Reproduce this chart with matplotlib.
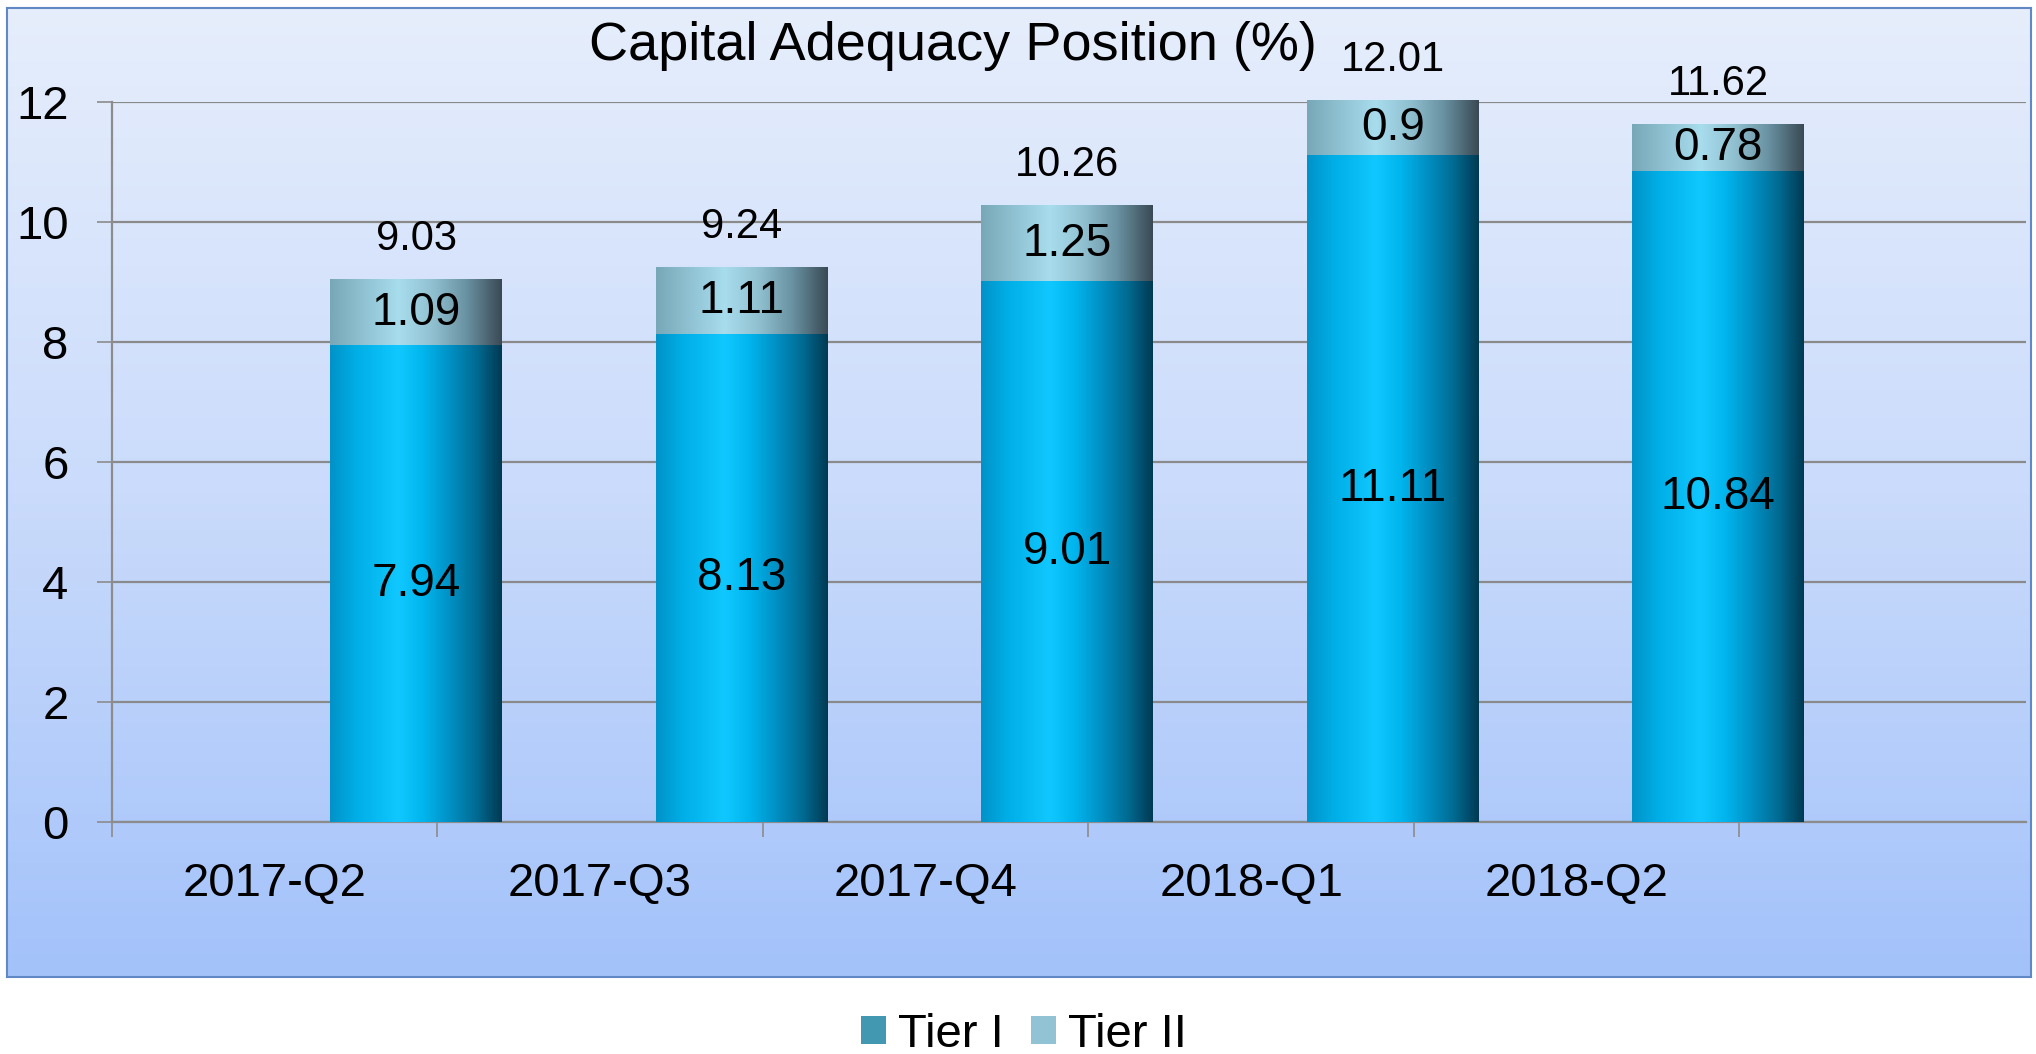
import numpy as np
import matplotlib.pyplot as plt
from matplotlib.colors import LinearSegmentedColormap

plt.rcParams['font.family'] = ['Liberation Sans', 'DejaVu Sans']

# data
quarters = ['2017-Q2', '2017-Q3', '2017-Q4', '2018-Q1', '2018-Q2']
tier1 = [7.94, 8.13, 9.01, 11.11, 10.84]
tier2 = [1.09, 1.11, 1.25, 0.9, 0.78]
total = [9.03, 9.24, 10.26, 12.01, 11.62]

W, H = 2036, 1054
fig = plt.figure(figsize=(W / 100, H / 100), dpi=100, facecolor='white')

# blue gradient panel behind the chart
bx0, by0, bx1, by1 = 7 / W, 1 - 977 / H, 2031 / W, 1 - 8 / H
bg = fig.add_axes([bx0, by0, bx1 - bx0, by1 - by0], zorder=0)
bg_cmap = LinearSegmentedColormap.from_list('bg', ['#A3C2FA', '#CADBFB', '#E6EEFC'])
bg.imshow(np.linspace(0, 1, 256).reshape(-1, 1), aspect='auto', cmap=bg_cmap,
          origin='lower', extent=[0, 1, 0, 1])
bg.set_xticks([])
bg.set_yticks([])
for s in bg.spines.values():
    s.set_color('#5F88C4')
    s.set_linewidth(1.5)

ax = fig.add_axes([111.6 / W, 1 - 822 / H, (2026 - 111.6) / W, (822 - 101.7) / H], zorder=1)
ax.patch.set_alpha(0)

x = np.arange(len(quarters))
pos = x + 0.935  # bars sit right of the category label in the original
bw = 0.528
b1 = ax.bar(pos, tier1, width=bw, color='#4298B0', label='Tier I', zorder=3)
b2 = ax.bar(pos, tier2, bottom=tier1, width=bw, color='#92C3D4', label='Tier II', zorder=3)

# cylinder-like horizontal shading on each bar
t1_cmap = LinearSegmentedColormap.from_list('t1', [
    (0.0, '#0092C8'), (0.15, '#00AEE6'), (0.4, '#10C8FF'), (0.55, '#00B4EC'),
    (0.7, '#0090C4'), (0.85, '#006C94'), (1.0, '#003A52')])
t2_cmap = LinearSegmentedColormap.from_list('t2', [
    (0.0, '#78A8B8'), (0.4, '#A8DDEE'), (0.6, '#90C0D0'), (0.8, '#6890A0'),
    (1.0, '#3A4A54')])
grad = np.linspace(0, 1, 256).reshape(1, -1)
for bars, cm in [(b1, t1_cmap), (b2, t2_cmap)]:
    for r in bars:
        ax.imshow(grad, cmap=cm, aspect='auto', interpolation='bilinear', zorder=4,
                  extent=[r.get_x(), r.get_x() + r.get_width(),
                          r.get_y(), r.get_y() + r.get_height()], clip_on=False)

# value labels
for r, v in zip(b1, tier1):
    ax.text(r.get_x() + r.get_width() / 2, v / 2, str(v), ha='center', va='center',
            fontsize=33, zorder=5)
for r, v, b in zip(b2, tier2, tier1):
    ax.text(r.get_x() + r.get_width() / 2, b + v / 2, str(v), ha='center', va='center',
            fontsize=33, zorder=5)
for r, v in zip(b2, total):
    ax.text(r.get_x() + r.get_width() / 2, v + 0.68, str(v), ha='center', va='center',
            fontsize=30, zorder=5, clip_on=False)

ax.set_xlim(0, 5.88)
ax.set_ylim(0, 12)
ax.set_yticks(range(0, 13, 2))
ax.set_xticks(x + 0.5, quarters)
ax.set_xticks(range(0, 6), minor=True)
ax.yaxis.grid(True, color='#8A8A8A', lw=1.6)
ax.set_axisbelow(True)
ax.tick_params(axis='x', which='major', length=0, pad=29, labelsize=34)
ax.tick_params(axis='x', which='minor', length=11, color='#8C8C8C', width=1.2)
ax.tick_params(axis='y', length=11, color='#8C8C8C', width=1.2, labelsize=34, pad=20)
for side in ['top', 'right']:
    ax.spines[side].set_visible(False)
for side in ['left', 'bottom']:
    ax.spines[side].set_color('#8C8C8C')
    ax.spines[side].set_linewidth(1.6)

fig.text(589 / W, 1 - 60 / H, 'Capital Adequacy Position (%)', ha='left', va='baseline',
         fontsize=39)

fig.legend(handles=[b1, b2], labels=['Tier I', 'Tier II'], loc='center',
           bbox_to_anchor=(1024 / W, 1 - 1035 / H), ncol=2, frameon=False, fontsize=34,
           handlelength=0.53, handleheight=0.53, handletextpad=0.25, columnspacing=0.57)

fig.savefig('out.png', dpi=100, facecolor='white')
